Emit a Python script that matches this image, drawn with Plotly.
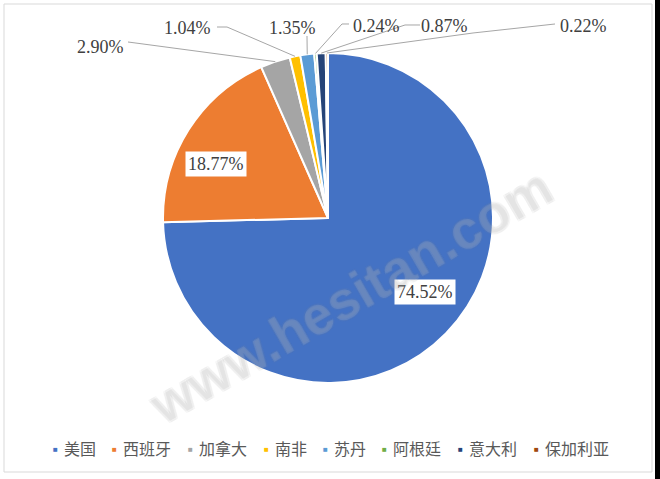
import math
import plotly.graph_objects as go

# ---- data ----
categories = ["美国", "西班牙", "加拿大", "南非", "苏丹", "阿根廷", "意大利", "保加利亚"]
shares = [74.52, 18.77, 2.90, 1.04, 1.35, 0.24, 0.87, 0.22]
labels = ["74.52%", "18.77%", "2.90%", "1.04%", "1.35%", "0.24%", "0.87%", "0.22%"]
colors = ["#4472C4", "#ED7D31", "#A5A5A5", "#FFC000", "#5B9BD5", "#70AD47", "#264478", "#9E480E"]

# ---- layout constants (pixels) ----
W, H = 660, 479
CX, CY, R = 328, 218, 165

# label placement: (center x, center y, boxed?)  and leader paths (start, elbow)
label_pos = [(425, 292, True), (216, 164, True), (101, 47, False), (187, 28, False),
             (292, 28, False), (376, 26, False), (445, 26, False), (583, 26, False)]
leaders = [None, None,
           [(128, 42)],
           [(217, 27), (227, 27)],
           [(307, 36)],
           [(349, 24), (342, 24)],
           [(420, 25), (405, 25)],
           [(555, 24), (473, 33)]]


def px(x):
    return x / W


def py(y):
    return 1 - y / H


fig = go.Figure()
fig.add_trace(go.Pie(
    labels=categories, values=shares, sort=False, direction="clockwise", rotation=0,
    marker=dict(colors=colors, line=dict(color="white", width=2)),
    textinfo="none", hoverinfo="label+percent", showlegend=False,
    domain=dict(x=[px(CX - R), px(CX + R)], y=[py(CY + R), py(CY - R)]),
))

annotations = []
shapes = []

total = sum(shares)
cum = 0.0
for i, v in enumerate(shares):
    mid = (cum + v / 2) / total * 2 * math.pi
    cum += v
    ex = CX + R * math.sin(mid)
    ey = CY - R * math.cos(mid)
    lx, ly, boxed = label_pos[i]
    annotations.append(dict(
        x=px(lx), y=py(ly), xref="paper", yref="paper", text=labels[i], showarrow=False,
        font=dict(family="Liberation Serif", size=18, color="#404040"),
        bgcolor="white" if boxed else "rgba(0,0,0,0)", borderpad=2,
        xanchor="center", yanchor="middle",
    ))
    if leaders[i]:
        pts = leaders[i] + [(ex, ey)]
        path = "M " + " L ".join(f"{px(a):.5f},{py(b):.5f}" for a, b in pts)
        shapes.append(dict(type="path", xref="paper", yref="paper", path=path,
                           line=dict(color="#A6A6A6", width=1)))

# custom legend row
lx = 55
for name, col in zip(categories, colors):
    annotations.append(dict(x=px(lx), y=py(448), xref="paper", yref="paper", text="■",
                            showarrow=False, xanchor="center", yanchor="middle",
                            font=dict(size=8, color=col)))
    annotations.append(dict(x=px(lx + 7), y=py(448), xref="paper", yref="paper", text=name,
                            showarrow=False, xanchor="left", yanchor="middle",
                            font=dict(family="Noto Sans CJK SC", size=16, color="#595959")))
    lx += 25 + 17 * len(name)

# watermark
oc = "rgba(150,150,150,0.75)"
annotations.append(dict(
    x=px(350), y=py(296), xref="paper", yref="paper", text="<b>www.hesitan.com</b>",
    showarrow=False, textangle=-30, xanchor="center", yanchor="middle",
    font=dict(family="Liberation Sans", size=54, color="rgba(255,255,255,0.10)",
              shadow=f"1px 1px 0 {oc}, -1px -1px 0 {oc}, 1px -1px 0 {oc}, -1px 1px 0 {oc}"),
))

# chart frame and right edge strip
shapes.append(dict(type="rect", xref="paper", yref="paper", x0=px(4), x1=px(652), y0=py(472), y1=py(4),
                   line=dict(color="#D9D9D9", width=1), layer="below"))
shapes.append(dict(type="rect", xref="paper", yref="paper", x0=px(655), x1=1, y0=0, y1=1,
                   line=dict(width=0), fillcolor="black"))

fig.update_layout(
    width=W, height=H, margin=dict(l=0, r=0, t=0, b=0),
    paper_bgcolor="white", plot_bgcolor="white",
    annotations=annotations, shapes=shapes, showlegend=False,
)
fig.write_html("out.html", config={"displayModeBar": False},
               post_script="document.body.style.margin='0';")
